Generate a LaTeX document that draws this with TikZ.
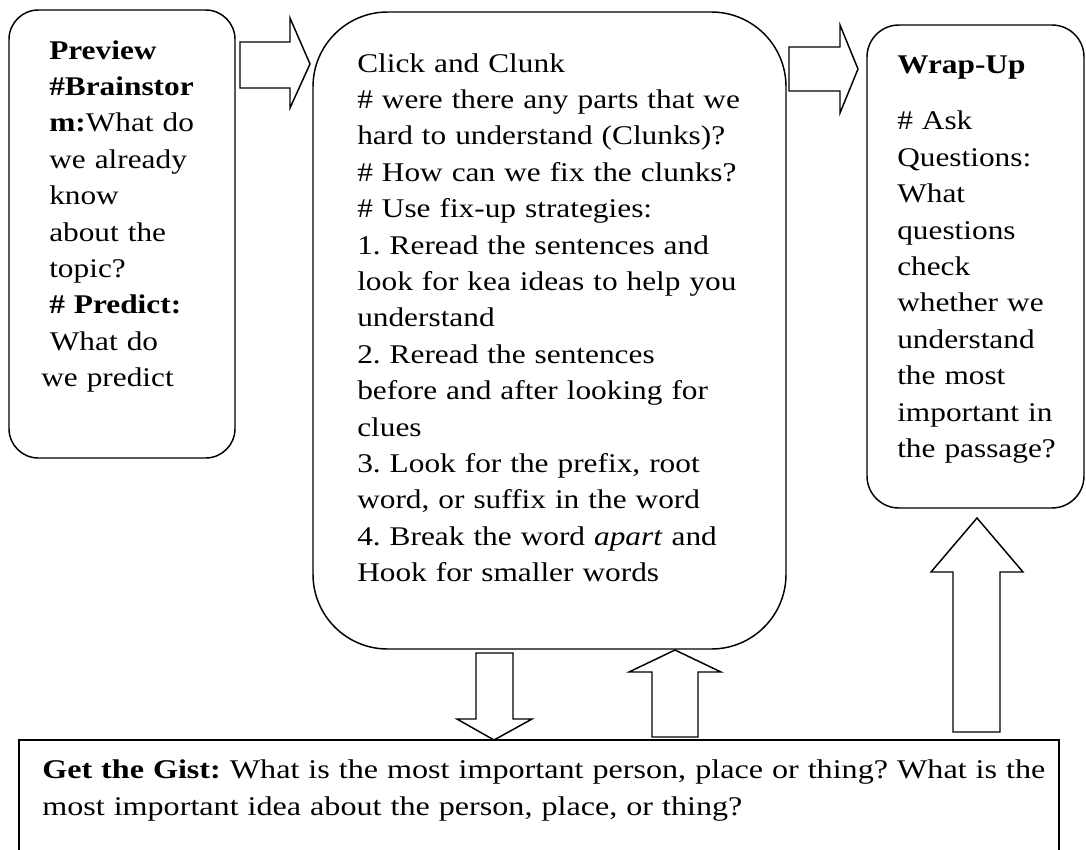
\documentclass[tikz,border=0pt]{standalone}
\usepackage{fontspec}
\setmainfont{Liberation Serif}[FakeStretch=1.16]
\newfontfamily\gistfont{Liberation Serif}[FakeStretch=1.19]
\newlength\linewd
\frenchspacing
\tikzset{
  box/.style={draw=black, line width=1.1pt, fill=white, inner sep=0pt},
  blockarrow/.style={draw=black, line width=1.1pt, fill=white, line join=miter},
  txt/.style={inner sep=0pt, anchor=base west, text width=330pt, align=left,
    font=\fontsize{20.25}{27.3}\selectfont},
}
\begin{document}
\begin{tikzpicture}[x=0.75pt, y=-0.75pt]
\clip (0,0) rectangle (1086,850);
\fill[white] (0,0) rectangle (1086,850);

% boxes
\node[box, rounded corners=22pt, minimum width=169.5pt, minimum height=336pt] (preview) at (122,234) {};
\node[box, rounded corners=56pt, minimum width=354.75pt, minimum height=477.75pt] (click) at (549.5,330.5) {};
\node[box, rounded corners=24pt, minimum width=162.75pt, minimum height=362.25pt] (wrap) at (975.5,266.5) {};
\node[box, rounded corners=0pt, minimum width=780pt, minimum height=97.5pt] (gist) at (539,805) {};

% block arrows
\draw[blockarrow] (240,42) -- (290,42) -- (290,18) -- (310,64) -- (290,108) -- (290,88) -- (240,88) -- cycle;
\draw[blockarrow] (789,47) -- (840,47) -- (840,25) -- (858,69) -- (840,113) -- (840,91) -- (789,91) -- cycle;
\draw[blockarrow] (476,653) -- (513,653) -- (513,719) -- (532,719) -- (494,740) -- (457,719) -- (476,719) -- cycle;
\draw[blockarrow] (652,737) -- (652,672) -- (629,672) -- (675,650) -- (721,672) -- (698,672) -- (698,737) -- cycle;
\draw[blockarrow] (953,732) -- (953,572) -- (931,572) -- (977,518) -- (1023,572) -- (1000,572) -- (1000,732) -- cycle;

% texts
\node[txt] (previewtext) at (49,59) {\textbf{Preview}\\
\textbf{\#Brainstor}\\
\textbf{m:}What do\\
we already\\
know\\
about the\\
topic?\\
\textbf{\# Predict:}\\
\hspace*{0.5pt}What do\\
\hspace*{-6pt}we predict};

\node[txt] (clicktext) at (357,72) {\settowidth{\linewd}{\# were there any parts that we}Click and Clunk\\
\# were there any parts that we\\
\makebox[\linewd][s]{hard to understand (Clunks)?}\\
\# How can we fix the clunks?\\
\# Use fix-up strategies:\\
1. Reread the sentences and\\
look for kea ideas to help you\\
understand\\
2. Reread the sentences\\
before and after looking for\\
clues\\
3. Look for the prefix, root\\
word, or suffix in the word\\
4. Break the word \textit{apart} and\\
Hook for smaller words};

\node[txt] (wraptext) at (897,73) {\textbf{Wrap-Up}\\[15.4pt]
\# Ask\\
Questions:\\
What\\
questions\\
check\\
whether we\\
understand\\
the most\\
important in\\
the passage?};

\node[txt, text width=800pt, font=\gistfont\fontsize{20.25}{27.75}\selectfont] (gisttext) at (42,778) {\textbf{Get the Gist:} What is the most important person, place or thing? What is the\\
most important idea about the person, place, or thing?};
\end{tikzpicture}
\end{document}
